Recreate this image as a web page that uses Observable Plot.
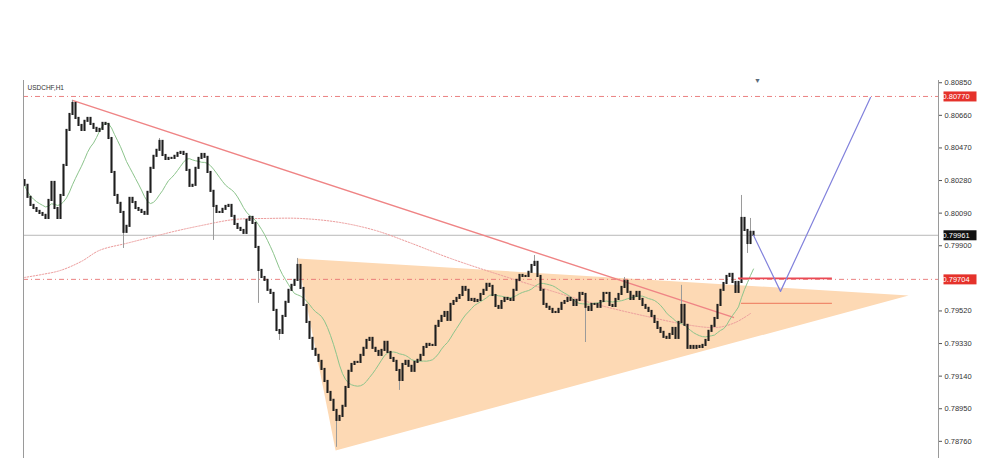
<!DOCTYPE html>
<html><head><meta charset="utf-8">
<script src="https://cdn.jsdelivr.net/npm/d3@7"></script>
<script src="https://cdn.jsdelivr.net/npm/@observablehq/plot@0.6"></script>
<style>body{margin:0;background:#fff} svg{display:block}</style>
</head><body><div id="chart"></div>
<script>
// ---- data (USDCHF, H1) ----
const symbolLabel = "USDCHF,H1";
const firstOpen = 0.80280;
const closes = [
0.80252,0.80182,0.80135,0.80117,0.80100,0.80088,0.80077,0.80059,0.80164,0.80269,
0.80117,0.80059,0.80193,0.80368,0.80572,0.80665,0.80729,0.80642,0.80601,0.80572,
0.80625,0.80642,0.80607,0.80584,0.80566,0.80578,0.80613,0.80607,0.80525,0.80327,
0.80193,0.80147,0.80094,0.79978,0.80013,0.80176,0.80152,0.80117,0.80106,0.80094,
0.80083,0.80211,0.80351,0.80421,0.80456,0.80508,0.80426,0.80403,0.80409,0.80409,
0.80421,0.80438,0.80444,0.80432,0.80339,0.80246,0.80252,0.80351,0.80409,0.80432,
0.80415,0.80327,0.80217,0.80129,0.80094,0.80094,0.80112,0.80129,0.80135,0.80071,
0.80024,0.80001,0.79989,0.79972,0.80048,0.80065,0.80030,0.79890,0.79756,0.79715,
0.79698,0.79640,0.79622,0.79523,0.79406,0.79389,0.79488,0.79570,0.79640,0.79669,
0.79698,0.79785,0.79651,0.79552,0.79453,0.79360,0.79296,0.79261,0.79226,0.79179,
0.79109,0.79045,0.78999,0.78940,0.78882,0.78905,0.78964,0.79074,0.79168,0.79208,
0.79220,0.79220,0.79261,0.79302,0.79348,0.79360,0.79302,0.79284,0.79261,0.79290,
0.79337,0.79278,0.79243,0.79226,0.79173,0.79115,0.79208,0.79226,0.79197,0.79168,
0.79220,0.79232,0.79261,0.79307,0.79325,0.79319,0.79319,0.79430,0.79459,0.79488,
0.79511,0.79465,0.79558,0.79575,0.79593,0.79610,0.79657,0.79640,0.79581,0.79587,
0.79575,0.79581,0.79616,0.79640,0.79675,0.79663,0.79610,0.79546,0.79535,0.79575,
0.79593,0.79587,0.79581,0.79640,0.79698,0.79727,0.79721,0.79721,0.79745,0.79785,
0.79803,0.79721,0.79640,0.79558,0.79541,0.79529,0.79511,0.79511,0.79529,0.79564,
0.79575,0.79593,0.79581,0.79552,0.79581,0.79622,0.79616,0.79541,0.79523,0.79558,
0.79558,0.79541,0.79575,0.79622,0.79622,0.79552,0.79546,0.79587,0.79616,0.79657,
0.79692,0.79628,0.79587,0.79605,0.79628,0.79587,0.79552,0.79535,0.79517,0.79488,
0.79453,0.79418,0.79395,0.79366,0.79360,0.79383,0.79418,0.79360,0.79453,0.79552,
0.79436,0.79302,0.79313,0.79302,0.79313,0.79307,0.79319,0.79348,0.79401,0.79430,
0.79476,0.79552,0.79640,0.79680,0.79721,0.79733,0.79686,0.79628,0.79686,0.80059,
0.79989,0.79913,0.79978,0.79961
];
// notable wicks (bar index, extreme price)
const wickBars = [16,33,45,63,78,85,91,104,125,170,187,200,219,239,241,242];
const wickEnds = [0.80747,0.79884,0.80525,0.79931,0.79564,0.79348,0.79826,0.78725,0.79057,0.79843,0.79336,0.79715,0.79669,0.80193,0.79855,0.80059];
// slow moving average (dotted)
const slowBars = [0,6,12,19,25,34,42,50,59,70,81,92,105,117,129,142,159,175,192,209,222,231,237,242];
const slowPrices = [0.79715,0.79733,0.79756,0.79809,0.79873,0.79914,0.79949,0.79984,0.80018,0.80053,0.80059,0.80059,0.80036,0.79989,0.79914,0.79826,0.79727,0.79640,0.79552,0.79482,0.79436,0.79424,0.79453,0.79505];
// descending trend line
const trendBars = [16, 236.3];
const trendPrices = [0.80747, 0.79482];
// triangle pattern
const triBars = [91, 103.7, 294.7, 91];
const triPrices = [0.79826, 0.78707, 0.79610, 0.79826];
// projected path
const projBars = [243, 252, 282];
const projPrices = [0.79961, 0.79634, 0.80764];
// levels
const levelPrices = [0.80770, 0.79704];
const currentPrice = 0.79961;
const zoneBars = [238, 269.3];
const zoneUpper = 0.79710;
const zoneLower = 0.79564;
// axis ticks
const yTicks = [0.80850,0.80660,0.80470,0.80280,0.80090,0.79900,0.79520,0.79330,0.79140,0.78950,0.78760];
const priceLabels = [
  {v: 0.80770, bg: "#e5322b"},
  {v: 0.79961, bg: "#111111"},
  {v: 0.79704, bg: "#e5322b"}
];
const markerBar = 244.3;

// ---- build ----
const xDomain = [-0.333, 304.667];
const yDomain = [0.78660, 0.80863];
const candles = closes.map((c, i) => ({i, open: i ? closes[i-1] : firstOpen, close: c}));
const wicks = wickBars.map((b, k) => ({i: b, from: closes[b], to: wickEnds[k]}));
const slow = slowBars.map((b, k) => ({i: b, p: slowPrices[k]}));
const trend = trendBars.map((b, k) => ({i: b, p: trendPrices[k]}));
const tri = triBars.map((b, k) => ({i: b, p: triPrices[k]}));
const proj = projBars.map((b, k) => ({i: b, p: projPrices[k]}));

const boxLabel = (bgW, bgH) => function(index, scales, values, dims, ctx, next) {
  const g = next(index, scales, values, dims, ctx);
  const ns = "http://www.w3.org/2000/svg";
  const x0 = dims.width - dims.marginRight + 1;
  for (const i of index) {
    const y = scales.y(priceLabels[i].v);
    const r = document.createElementNS(ns, "rect");
    r.setAttribute("x", x0);
    r.setAttribute("y", y - bgH / 2);
    r.setAttribute("width", bgW);
    r.setAttribute("height", bgH);
    r.setAttribute("fill", priceLabels[i].bg);
    g.insertBefore(r, g.firstChild);
  }
  return g;
};

const chart = Plot.plot({
  width: 1000, height: 476,
  marginTop: 80, marginBottom: 18, marginLeft: 23, marginRight: 62,
  style: {fontFamily: "'Liberation Sans', Arial, sans-serif", background: "#fff"},
  x: {domain: xDomain, axis: null},
  y: {domain: yDomain, axis: null},
  marks: [
    Plot.line(tri, {x: "i", y: "p", fill: "#fdd9b4", stroke: "none", curve: "linear"}),
    Plot.ruleY(levelPrices, {stroke: "#e87474", strokeWidth: 0.9, strokeDasharray: "5,3,1,3"}),
    Plot.ruleY([currentPrice], {stroke: "#b8b8b8", strokeWidth: 1}),
    Plot.line(slow, {x: "i", y: "p", stroke: "#ec9c9c", strokeWidth: 1, strokeDasharray: "1.5,1.5", curve: "catmull-rom"}),
    Plot.line(trend, {x: "i", y: "p", stroke: "#ef8485", strokeWidth: 1.4}),
    Plot.lineY(candles, Plot.windowY({k: 14, anchor: "end"}, {x: "i", y: "close", stroke: "#8cc48c", strokeWidth: 1})),
    Plot.ruleX(wicks, {x: "i", y1: "from", y2: "to", stroke: "#9a9a9a", strokeWidth: 1}),
    Plot.ruleX(candles, {x: "i", y1: "open", y2: "close", stroke: "#1e1e1e", strokeWidth: 2.1, strokeLinecap: "square"}),
    Plot.ruleY([zoneUpper], {x1: zoneBars[0], x2: zoneBars[1], stroke: "#ea4a55", strokeWidth: 1.6}),
    Plot.ruleY([zoneLower], {x1: zoneBars[0] + 1, x2: zoneBars[1], stroke: "#f08a6c", strokeWidth: 1.2}),
    Plot.line(proj, {x: "i", y: "p", stroke: "#8282dc", strokeWidth: 1.2}),
    Plot.ruleX([xDomain[0]], {stroke: "#9a9a9a", strokeWidth: 1}),
    Plot.ruleX([xDomain[1]], {stroke: "#9a9a9a", strokeWidth: 1, y1: yDomain[0], y2: yDomain[1]}),
    Plot.axisY({anchor: "right", ticks: yTicks, tickFormat: d3.format(".5f"), tickSize: 3, tickPadding: 3, fontSize: 7.5, color: "#555", fill: "#333"}),
    Plot.text(priceLabels, {y: "v", text: d => d.v.toFixed(5), frameAnchor: "right", textAnchor: "start", dx: 4, fill: "white", fontSize: 7.5, render: boxLabel(33, 10)}),
    Plot.text([symbolLabel], {frameAnchor: "top-left", textAnchor: "start", dx: 4, dy: 5, fontSize: 6.5, fill: "#333"}),
    Plot.text(["▼"], {x: markerBar, frameAnchor: "top", dy: -2, fontSize: 7, fill: "#5b6b7b"})
  ]
});
document.getElementById("chart").append(chart);
</script>
</body></html>
